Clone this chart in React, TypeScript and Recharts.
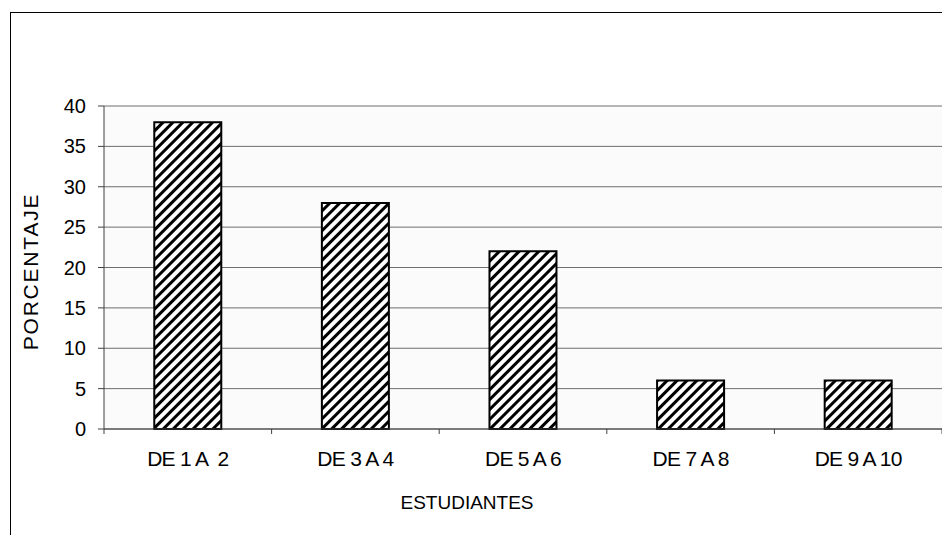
import { BarChart, Bar, XAxis, YAxis, CartesianGrid } from "recharts"

// Rangos de estudiantes y porcentaje de cada rango
const categories = ["DE 1 A  2", "DE 3 A 4", "DE 5 A 6", "DE 7 A 8", "DE 9 A 10"]
const percentages = [38, 28, 22, 6, 6]
const yTicks = [0, 5, 10, 15, 20, 25, 30, 35, 40]

const data = categories.map((name, i) => ({ name, value: percentages[i] }))

const FONT = "'Liberation Sans', Arial, sans-serif"

function CategoryTick(props: any) {
    const { x, y, payload, index, width, visibleTicksCount } = props
    const band = width / visibleTicksCount
    const last = index === visibleTicksCount - 1
    return (
        <g>
            <line x1={x - band / 2} y1={y} x2={x - band / 2} y2={y + 5} stroke="#404040" />
            {last && <line x1={x + band / 2} y1={y} x2={x + band / 2} y2={y + 5} stroke="#404040" />}
            <text
                x={x}
                y={y + 37}
                textAnchor="middle"
                fontSize={21}
                fontFamily={FONT}
                letterSpacing={-0.7}
                fill="#000"
                style={{ whiteSpace: "pre" }}
            >
                {payload.value}
            </text>
        </g>
    )
}

export default function App() {
    return (
        <div style={{ position: "relative", width: 942, height: 527, fontFamily: FONT }}>
            {/* marco exterior del gráfico */}
            <div
                style={{
                    position: "absolute",
                    left: 2,
                    top: 4,
                    width: 940,
                    height: 523,
                    borderLeft: "1px solid #000",
                    borderTop: "1px solid #000",
                    boxSizing: "border-box",
                }}
            />
            <div style={{ position: "absolute", left: 0, top: 0 }}>
                <BarChart
                    width={942}
                    height={527}
                    data={data}
                    margin={{ top: 98, right: 8, bottom: 46, left: 36 }}
                    barCategoryGap="30%"
                >
                    <defs>
                        <pattern
                            id="hatch"
                            patternUnits="userSpaceOnUse"
                            width={7}
                            height={7}
                            patternTransform="rotate(45)"
                        >
                            <rect width={7} height={7} fill="#fff" />
                            <rect width={3} height={7} fill="#000" />
                        </pattern>
                    </defs>
                    <CartesianGrid
                        vertical={false}
                        stroke="#6e6e6e"
                        fill="#fbfbfb"
                        fillOpacity={1}
                    />
                    <XAxis
                        dataKey="name"
                        stroke="#404040"
                        tickLine={false}
                        tickSize={0}
                        tickMargin={0}
                        height={60}
                        interval={0}
                        tick={<CategoryTick />}
                        label={{
                            content: ({ viewBox }: any) => (
                                <text
                                    x={viewBox.x + viewBox.width / 2 - 56}
                                    y={viewBox.y + 80}
                                    textAnchor="middle"
                                    fontSize={19}
                                    fontFamily={FONT}
                                    fill="#000"
                                >
                                    ESTUDIANTES
                                </text>
                            ),
                        }}
                    />
                    <YAxis
                        domain={[0, 40]}
                        ticks={yTicks}
                        interval={0}
                        width={60}
                        stroke="#404040"
                        tickSize={6}
                        tickMargin={12}
                        tick={{ fill: "#000", fontSize: 20, fontFamily: FONT }}
                        label={{
                            content: ({ viewBox }: any) => {
                                const cx = viewBox.x - 14
                                const cy = viewBox.y + viewBox.height / 2 + 4
                                return (
                                    <text
                                        x={cx}
                                        y={cy}
                                        transform={`rotate(-90 ${cx} ${cy})`}
                                        textAnchor="middle"
                                        dominantBaseline="central"
                                        fontSize={21}
                                        letterSpacing={1.8}
                                        fontFamily={FONT}
                                        fill="#000"
                                    >
                                        PORCENTAJE
                                    </text>
                                )
                            },
                        }}
                    />
                    <YAxis
                        yAxisId="borde"
                        orientation="right"
                        width={0}
                        stroke="#8c8c8c"
                        tick={false}
                        tickLine={false}
                    />
                    <Bar
                        dataKey="value"
                        fill="url(#hatch)"
                        stroke="#000"
                        strokeWidth={2}
                        isAnimationActive={false}
                    />
                </BarChart>
            </div>
        </div>
    )
}
